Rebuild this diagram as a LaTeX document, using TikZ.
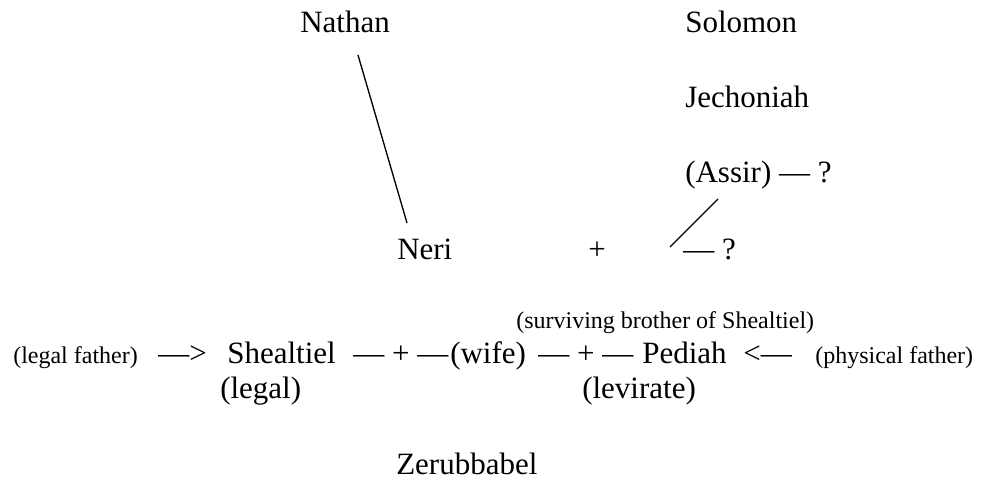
\documentclass[tikz,border=0pt]{standalone}
\usepackage{fontspec}
\setmainfont{Liberation Serif}

\begin{document}
\begin{tikzpicture}[x=0.75pt,y=-0.75pt,
    person/.style={font=\fontsize{23.25}{28}\selectfont,inner sep=0pt,anchor=base west},
    note/.style={font=\fontsize{18}{22}\selectfont,inner sep=0pt,anchor=base west},
    link/.style={line width=1pt}]
  \useasboundingbox (0,0) rectangle (982,483);

  % line of Nathan
  \node[person] (nathan) at (300,32) {Nathan};
  \node[person] (neri) at (397,259) {Neri};
  \coordinate (nathanfoot) at (358,55);
  \coordinate (nerihead) at (407,223);
  \draw[link] (nathanfoot) -- (nerihead);

  % line of Solomon
  \node[person] (solomon) at (685,32) {Solomon};
  \node[person] (jechoniah) at (685,107) {Jechoniah};
  \node[person] (assir) at (685,182) {(Assir) — ?};
  \node[person] (plus) at (588,259) {+};
  \node[person] (daughter) at (683,259) {— ?};
  \coordinate (assirfoot) at (718,199);
  \coordinate (daughterhead) at (670,247);
  \draw[link] (assirfoot) -- (daughterhead);

  % the levirate marriage
  \node[note] (brother) at (516,328) {(surviving brother of Shealtiel)};
  \node[note] (legalfather) at (13,363) {(legal father)};
  \node[person] (toarrow) at (158,363) {—>};
  \node[person] (shealtiel) at (227,363) {Shealtiel};
  \node[person] (leftplus) at (353,363) {— + —};
  \node[person] (wife) at (450,363) {(wife)};
  \node[person] (rightplus) at (538,363) {— + —};
  \node[person] (pediah) at (642,363) {Pediah};
  \node[person] (fromarrow) at (743,363) {<—};
  \node[note] (physfather) at (815,363) {(physical father)};
  \node[person] (legal) at (220,398) {(legal)};
  \node[person] (levirate) at (582,398) {(levirate)};

  \node[person] (zerubbabel) at (396,474) {Zerubbabel};
\end{tikzpicture}
\end{document}
